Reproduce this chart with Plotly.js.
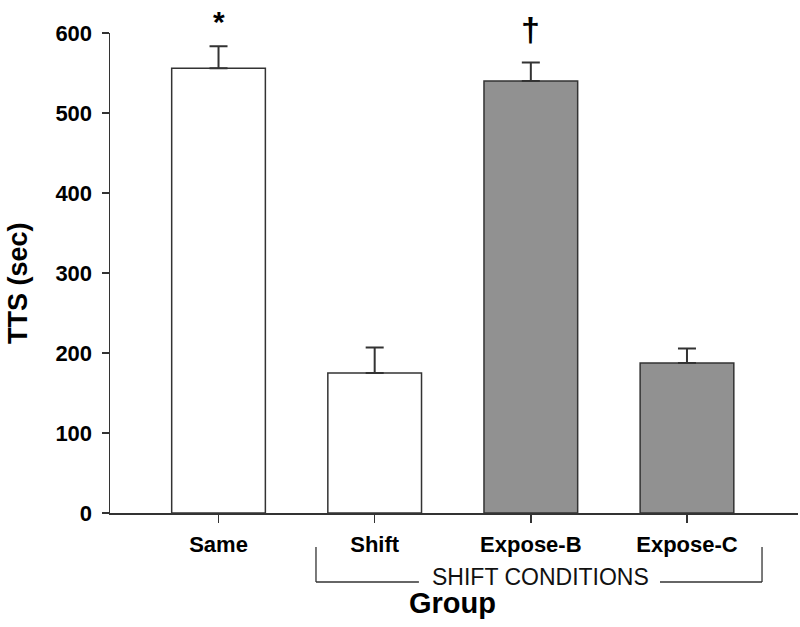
<!DOCTYPE html>
<html>
<head>
<meta charset="utf-8">
<script src="https://cdn.plot.ly/plotly-3.0.1.min.js"></script>
<style>html,body{margin:0;padding:0;background:#fff;}#chart{width:800px;height:627px;}</style>
</head>
<body>
<div id="chart"></div>
<script>
// Data
const groups = ['Same', 'Shift', 'Expose-B', 'Expose-C'];
const meanTTS = [556, 175, 540, 187.5];
const semTTS = [27.5, 32, 23, 18];
const barColors = ['#ffffff', '#ffffff', '#919191', '#919191'];
const sigMarks = ['*', '', '\u2020', ''];
const sigMarkY = [615, null, 605, null];

const FONT = 'Arial, "Liberation Sans", Helvetica, sans-serif';
const Y_MAX = 600;

const trace = {
  type: 'bar',
  x: groups,
  y: meanTTS,
  width: 0.6,
  marker: { color: barColors, line: { color: '#333', width: 1.5 } },
  error_y: {
    type: 'data', symmetric: false,
    array: semTTS, arrayminus: groups.map(() => 0),
    color: '#333', thickness: 2, width: 9
  },
  hoverinfo: 'none'
};

const annotations = [];
groups.forEach((g, i) => {
  if (sigMarks[i]) {
    annotations.push({
      x: g, y: sigMarkY[i] / Y_MAX, xref: 'x', yref: 'paper', text: sigMarks[i], showarrow: false,
      font: { family: FONT, size: sigMarks[i] === '*' ? 30 : 34, color: '#000', weight: 'bold' },
      xanchor: 'center', yanchor: 'middle'
    });
  }
});
annotations.push({
  x: 0.625, y: -0.1323, xref: 'paper', yref: 'paper', text: 'SHIFT CONDITIONS', showarrow: false,
  font: { family: FONT, size: 23, color: '#111' }, xanchor: 'center', yanchor: 'middle'
});
annotations.push({
  x: 0.4985, y: -0.1875, xref: 'paper', yref: 'paper', text: '<b>Group</b>', showarrow: false,
  font: { family: FONT, size: 29, color: '#000' }, xanchor: 'center', yanchor: 'middle'
});
annotations.push({
  x: -0.1344, y: 0.478, xref: 'paper', yref: 'paper', text: '<b>TTS (sec)</b>', showarrow: false,
  textangle: -90, font: { family: FONT, size: 27, color: '#000' }, xanchor: 'center', yanchor: 'middle'
});

const lineStyle = { color: '#333', width: 1.3 };
const shapes = [
  { type: 'line', xref: 'paper', yref: 'paper', x0: 0.2994, x1: 0.2994, y0: -0.0708, y1: -0.1438, line: lineStyle },
  { type: 'line', xref: 'paper', yref: 'paper', x0: 0.2994, x1: 0.449, y0: -0.1438, y1: -0.1438, line: lineStyle },
  { type: 'line', xref: 'paper', yref: 'paper', x0: 0.7994, x1: 0.9477, y0: -0.1438, y1: -0.1438, line: lineStyle },
  { type: 'line', xref: 'paper', yref: 'paper', x0: 0.9477, x1: 0.9477, y0: -0.0708, y1: -0.1438, line: lineStyle }
];

const layout = {
  width: 800, height: 627,
  margin: { l: 110, r: 2, t: 33, b: 114, pad: 0 },
  paper_bgcolor: '#fff', plot_bgcolor: '#fff',
  showlegend: false,
  font: { family: FONT, color: '#000' },
  xaxis: {
    type: 'category', range: [-0.695, 3.711], fixedrange: true,
    showline: true, linecolor: '#333', linewidth: 1.5,
    ticks: 'outside', ticklen: 8, tickwidth: 1.5, tickcolor: '#333',
    ticklabelstandoff: 3,
    tickfont: { family: FONT, size: 22, color: '#000', weight: 'bold' },
    showgrid: false, zeroline: false
  },
  yaxis: {
    range: [0, Y_MAX], tickvals: [0, 100, 200, 300, 400, 500, 600], fixedrange: true,
    showline: true, linecolor: '#333', linewidth: 1.5,
    ticks: 'outside', ticklen: 7, tickwidth: 1.5, tickcolor: '#333',
    ticklabelstandoff: 5,
    tickfont: { family: FONT, size: 22, color: '#000', weight: 'bold' },
    showgrid: false, zeroline: false
  },
  annotations: annotations,
  shapes: shapes
};

Plotly.newPlot('chart', [trace], layout, { displayModeBar: false, staticPlot: true });
</script>
</body>
</html>
